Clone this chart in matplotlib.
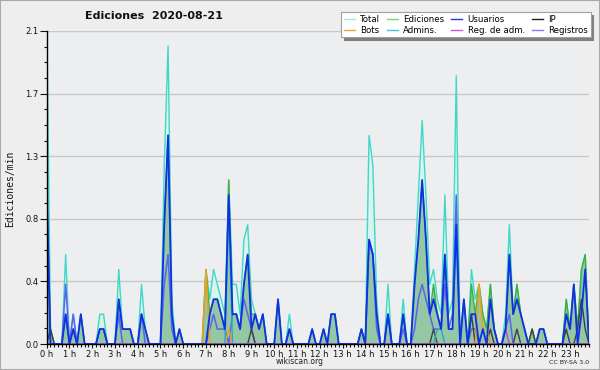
import numpy as np
import matplotlib
matplotlib.use("Agg")
import matplotlib.pyplot as plt
from matplotlib.lines import Line2D
from matplotlib.patches import Rectangle
from matplotlib.ticker import FixedLocator, MultipleLocator

# ---- data (edits per minute, 10-minute slots, 0:00 .. 23:50) ----
hours = list(range(24))
hour_labels = [f"{h} h" for h in hours]
y_ticks = [0.0, 0.42, 0.84, 1.26, 1.68, 2.1]
y_tick_labels = ["0.0", "0.4", "0.8", "1.3", "1.7", "2.1"]

total = [
    2.2, 0.1, 0, 0, 0, 0.6, 0, 0.2, 0, 0.2, 0, 0,
    0, 0, 0.2, 0.2, 0, 0, 0, 0.5, 0.1, 0.1, 0.1, 0,
    0, 0.4, 0.1, 0, 0, 0, 0, 1.2, 2.0, 0.3, 0, 0.1,
    0, 0, 0, 0, 0, 0, 0.5, 0.3, 0.5, 0.4, 0.3, 0.2,
    1.1, 0.4, 0.4, 0.2, 0.7, 0.8, 0.3, 0.2, 0.1, 0.2, 0, 0,
    0, 0.3, 0, 0, 0.2, 0, 0, 0, 0, 0, 0.1, 0,
    0, 0.1, 0, 0.2, 0.2, 0, 0, 0, 0, 0, 0, 0.1,
    0, 1.4, 1.2, 0.3, 0, 0, 0.4, 0, 0, 0, 0.3, 0,
    0, 0.5, 1.0, 1.5, 1.0, 0.4, 0.5, 0.3, 0.2, 1.0, 0.2, 0.3,
    1.8, 0, 0.3, 0, 0.5, 0.3, 0.4, 0.2, 0.1, 0.4, 0.1, 0,
    0, 0.2, 0.8, 0.2, 0.4, 0.2, 0.1, 0, 0.1, 0, 0.1, 0.1,
    0, 0, 0, 0, 0, 0.3, 0.1, 0.4, 0.1, 0.5, 0.6, 0,
]
ediciones = [
    1.0, 0.1, 0, 0, 0, 0.2, 0, 0.1, 0, 0.2, 0, 0,
    0, 0, 0.1, 0.1, 0, 0, 0, 0.3, 0.1, 0.1, 0.1, 0,
    0, 0.2, 0.1, 0, 0, 0, 0, 0.8, 1.4, 0.2, 0, 0.1,
    0, 0, 0, 0, 0, 0, 0.5, 0.2, 0.3, 0.3, 0.2, 0.1,
    1.1, 0.2, 0.2, 0.1, 0.4, 0.6, 0.2, 0.2, 0.1, 0.2, 0, 0,
    0, 0.3, 0, 0, 0.1, 0, 0, 0, 0, 0, 0.1, 0,
    0, 0.1, 0, 0.2, 0.2, 0, 0, 0, 0, 0, 0, 0.1,
    0, 0.7, 0.6, 0.2, 0, 0, 0.2, 0, 0, 0, 0.2, 0,
    0, 0.4, 0.7, 1.1, 0.7, 0.2, 0.4, 0.2, 0.1, 0.6, 0.1, 0.1,
    0.8, 0, 0.3, 0, 0.4, 0.2, 0.4, 0.2, 0.1, 0.4, 0.1, 0,
    0, 0.1, 0.6, 0.2, 0.4, 0.2, 0.1, 0, 0.1, 0, 0.1, 0.1,
    0, 0, 0, 0, 0, 0.3, 0.1, 0.4, 0.1, 0.5, 0.6, 0,
]
usuarios = [
    1.0, 0, 0, 0, 0, 0.2, 0, 0.1, 0, 0.2, 0, 0,
    0, 0, 0.1, 0.1, 0, 0, 0, 0.3, 0.1, 0.1, 0.1, 0,
    0, 0.2, 0.1, 0, 0, 0, 0, 0.8, 1.4, 0.2, 0, 0.1,
    0, 0, 0, 0, 0, 0, 0, 0.2, 0.3, 0.3, 0.2, 0.1,
    1.0, 0.2, 0.2, 0.1, 0.4, 0.6, 0.1, 0.2, 0.1, 0.2, 0, 0,
    0, 0.3, 0, 0, 0.1, 0, 0, 0, 0, 0, 0.1, 0,
    0, 0.1, 0, 0.2, 0.2, 0, 0, 0, 0, 0, 0, 0.1,
    0, 0.7, 0.6, 0.2, 0, 0, 0.2, 0, 0, 0, 0.2, 0,
    0, 0.4, 0.7, 1.1, 0.7, 0.2, 0.3, 0.2, 0.1, 0.6, 0.1, 0.1,
    0.8, 0, 0.3, 0, 0.2, 0.2, 0, 0.1, 0, 0.3, 0.1, 0,
    0, 0.1, 0.6, 0.2, 0.3, 0.2, 0.1, 0, 0, 0, 0.1, 0.1,
    0, 0, 0, 0, 0, 0.2, 0.1, 0.4, 0, 0.2, 0.5, 0,
]
ip = [
    0, 0.1, 0, 0, 0, 0, 0, 0, 0, 0, 0, 0,
    0, 0, 0, 0, 0, 0, 0, 0, 0, 0, 0, 0,
    0, 0, 0, 0, 0, 0, 0, 0, 0, 0, 0, 0,
    0, 0, 0, 0, 0, 0, 0, 0, 0, 0, 0, 0,
    0, 0, 0, 0, 0, 0, 0.1, 0, 0, 0, 0, 0,
    0, 0, 0, 0, 0, 0, 0, 0, 0, 0, 0, 0,
    0, 0, 0, 0, 0, 0, 0, 0, 0, 0, 0, 0,
    0, 0, 0, 0, 0, 0, 0, 0, 0, 0, 0, 0,
    0, 0, 0, 0, 0, 0, 0.1, 0, 0, 0, 0, 0,
    0, 0, 0, 0, 0.2, 0, 0, 0, 0, 0.1, 0, 0,
    0, 0, 0, 0, 0.1, 0, 0, 0, 0.1, 0, 0, 0,
    0, 0, 0, 0, 0, 0.1, 0, 0, 0.1, 0.3, 0.1, 0,
]
bots = [
    0, 0, 0, 0, 0, 0, 0, 0, 0, 0, 0, 0,
    0, 0, 0, 0, 0, 0, 0, 0, 0, 0, 0, 0,
    0, 0, 0, 0, 0, 0, 0, 0, 0, 0, 0, 0,
    0, 0, 0, 0, 0, 0, 0.5, 0, 0, 0, 0, 0,
    0.1, 0, 0, 0, 0, 0, 0, 0, 0, 0, 0, 0,
    0, 0, 0, 0, 0, 0, 0, 0, 0, 0, 0, 0,
    0, 0, 0, 0, 0, 0, 0, 0, 0, 0, 0, 0,
    0, 0, 0, 0, 0, 0, 0, 0, 0, 0, 0, 0,
    0, 0, 0, 0, 0, 0, 0, 0, 0, 0, 0, 0,
    0, 0, 0, 0, 0, 0, 0.4, 0.1, 0.1, 0, 0, 0,
    0, 0, 0, 0, 0, 0, 0, 0, 0, 0, 0, 0,
    0, 0, 0, 0, 0, 0, 0, 0, 0, 0, 0, 0,
]
admins = [
    0, 0, 0, 0, 0, 0, 0, 0, 0, 0, 0, 0,
    0, 0, 0, 0, 0, 0, 0, 0, 0, 0, 0, 0,
    0, 0, 0, 0, 0, 0, 0, 0, 0, 0, 0, 0,
    0, 0, 0, 0, 0, 0, 0, 0, 0, 0, 0, 0,
    0.9, 0, 0, 0, 0, 0, 0, 0, 0, 0, 0, 0,
    0, 0, 0, 0, 0, 0, 0, 0, 0, 0, 0, 0,
    0, 0, 0, 0, 0, 0, 0, 0, 0, 0, 0, 0.1,
    0, 0, 0, 0, 0, 0, 0, 0, 0, 0, 0, 0,
    0, 0, 0, 0, 0, 0, 0, 0.1, 0.1, 0, 0, 0,
    0, 0, 0, 0, 0, 0, 0, 0, 0, 0, 0, 0,
    0, 0, 0, 0, 0, 0, 0, 0, 0, 0, 0, 0,
    0, 0, 0, 0, 0, 0, 0, 0, 0, 0, 0, 0,
]
reg_adm = [
    0, 0, 0, 0, 0, 0, 0, 0.1, 0, 0, 0, 0,
    0, 0, 0, 0, 0, 0, 0, 0, 0, 0, 0, 0,
    0, 0, 0, 0, 0, 0, 0, 0, 0, 0, 0, 0,
    0, 0, 0, 0, 0, 0, 0, 0, 0, 0, 0, 0,
    0, 0, 0, 0, 0, 0, 0, 0, 0, 0, 0, 0,
    0, 0, 0, 0, 0, 0, 0, 0, 0, 0, 0, 0,
    0, 0, 0, 0, 0, 0, 0, 0, 0, 0, 0, 0,
    0, 0, 0, 0, 0, 0, 0, 0, 0, 0, 0, 0,
    0, 0, 0, 0, 0, 0, 0, 0, 0, 0, 0, 0,
    0, 0, 0, 0, 0, 0, 0, 0, 0, 0, 0, 0,
    0, 0.1, 0, 0, 0, 0, 0, 0, 0, 0, 0, 0,
    0, 0, 0, 0, 0, 0, 0, 0, 0, 0, 0, 0,
]
registros = [
    1.2, 0, 0, 0, 0, 0.4, 0, 0.2, 0, 0, 0, 0,
    0, 0, 0.1, 0.1, 0, 0, 0, 0.2, 0, 0, 0, 0,
    0, 0.2, 0, 0, 0, 0, 0, 0.4, 0.6, 0.1, 0, 0,
    0, 0, 0, 0, 0, 0, 0, 0.1, 0.2, 0.1, 0.1, 0.1,
    0, 0.2, 0.2, 0.1, 0.3, 0.2, 0.1, 0, 0, 0, 0, 0,
    0, 0, 0, 0, 0.1, 0, 0, 0, 0, 0, 0, 0,
    0, 0, 0, 0, 0, 0, 0, 0, 0, 0, 0, 0,
    0, 0.7, 0.6, 0.1, 0, 0, 0.2, 0, 0, 0, 0.1, 0,
    0, 0.1, 0.3, 0.4, 0.3, 0.2, 0.1, 0.1, 0.1, 0.4, 0.1, 0.2,
    1.0, 0, 0, 0, 0.1, 0.1, 0, 0, 0, 0, 0, 0,
    0, 0.1, 0.2, 0, 0, 0, 0, 0, 0, 0, 0, 0,
    0, 0, 0, 0, 0, 0, 0, 0, 0, 0, 0, 0,
]

x = np.arange(len(total))  # slot index, 6 per hour

# ---- figure ----
W, H = 600, 370
fig = plt.figure(figsize=(W / 100, H / 100), dpi=100, facecolor="#eeeeee")
L, R, T, B = 46.7, 589.0, 31.0, 344.0
ax = fig.add_axes([L / W, 1 - B / H, (R - L) / W, (B - T) / H])
ax.set_facecolor("#edeef0")

ax.fill_between(x, total, color="#d9f3ef", lw=0, zorder=1)
ax.fill_between(x, ediciones, color="#93c8a2", lw=0, zorder=2)
ax.plot(x, total, color="#3fd8c8", lw=1.0, zorder=3)
ax.plot(x, ediciones, color="#3cb043", lw=1.0, zorder=3)
ax.plot(x, registros, color="#5a62f0", lw=1.1, zorder=4)
ax.plot(x, ip, color="#404040", lw=1.0, zorder=4)
ax.plot(x, bots, color="#f0a020", lw=1.1, zorder=4)
ax.plot(x, admins, color="#22a8d8", lw=1.0, zorder=4)
ax.plot(x, reg_adm, color="#c840e0", lw=1.0, zorder=4)
ax.plot(x, usuarios, color="#1030e6", lw=1.3, zorder=5)

ax.set_xlim(0, len(total) - 1)
ax.set_ylim(0, 2.1)

ax.xaxis.set_major_locator(FixedLocator([h * 6 for h in hours]))
ax.set_xticklabels(hour_labels)
ax.xaxis.set_minor_locator(MultipleLocator(1))
ax.yaxis.set_major_locator(FixedLocator(y_ticks))
ax.set_yticklabels(y_tick_labels)
ax.yaxis.set_minor_locator(MultipleLocator(0.105))

ax.tick_params(axis="x", which="major", direction="out", length=3, width=0.8,
               labelsize=6, pad=1, colors="#111111")
ax.tick_params(axis="x", which="minor", direction="out", length=2.4, width=0.8,
               colors="#111111")
ax.tick_params(axis="y", which="major", direction="out", length=4.8, width=0.8,
               labelsize=6, pad=1, colors="#111111")
ax.tick_params(axis="y", which="minor", direction="out", length=2.4, width=0.8,
               colors="#111111")

for s in ("top", "right"):
    ax.spines[s].set_visible(False)
for s in ("left", "bottom"):
    ax.spines[s].set_color("black")
    ax.spines[s].set_linewidth(1.0)
    ax.spines[s].set_zorder(6)

ax.yaxis.grid(True, which="major", color="#c8c8c8", lw=1.0, zorder=0)
ax.set_axisbelow(True)

# ---- texts ----
fig.text(153.5 / W, 1 - 16 / H, "Ediciones  2020-08-21", ha="center", va="center",
         fontsize=8, fontweight="bold", color="#111111")
fig.text(10 / W, 1 - 188.5 / H, "Ediciones/min", rotation=90, ha="center",
         va="center", fontsize=7, family="DejaVu Sans Mono", color="#111111")
fig.text(300 / W, 1 - 362 / H, "wikiscan.org", ha="center", va="center",
         fontsize=5.5, color="#222222")
fig.text(589 / W, 1 - 362 / H, "CC BY-SA 3.0", ha="right", va="center",
         fontsize=4.5, color="#222222")

# ---- legend ----
leg_items = [
    ("Total", "#a8e8e0"), ("Bots", "#f0a040"),
    ("Ediciones", "#80d080"), ("Admins.", "#40c8e0"),
    ("Usuarios", "#3030e0"), ("Reg. de adm.", "#d050e0"),
    ("IP", "#202020"), ("Registros", "#8080f0"),
]
handles = [Line2D([], [], color=c, lw=1.0) for _, c in leg_items]
labels = [n for n, _ in leg_items]
leg = fig.legend(handles, labels, ncol=4, loc="upper right",
                 bbox_to_anchor=(590.5 / W, 1 - 12.3 / H), borderaxespad=0,
                 fontsize=6.2, frameon=True, fancybox=False, framealpha=1,
                 edgecolor="#a0a0a0", facecolor="white",
                 handlelength=1.3, handletextpad=0.6, columnspacing=0.8,
                 labelspacing=0.2, borderpad=0.3,
                 shadow={"facecolor": "#808080", "edgecolor": "#808080", "alpha": 1.0})
leg.get_frame().set_linewidth(0.8)

# figure border
fig.patches.append(Rectangle((0, 0), 1, 1, transform=fig.transFigure, fill=False,
                             edgecolor="#aaaaaa", lw=1.5))

fig.savefig("out.png", dpi=100, facecolor=fig.get_facecolor())
